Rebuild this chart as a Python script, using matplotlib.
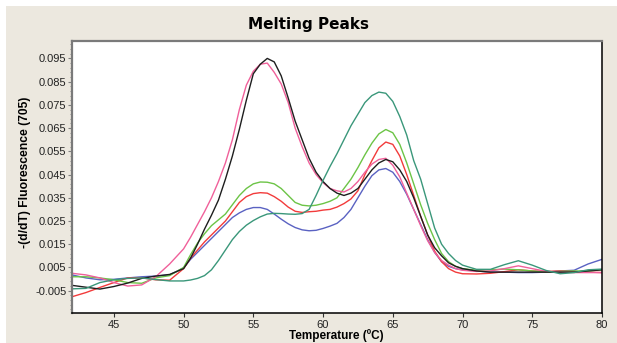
"""
Melting peaks: -(d/dT) fluorescence vs temperature for six samples.
Values read by eye off the reference chart.
"""
import matplotlib
matplotlib.use("Agg")
import matplotlib.pyplot as plt
from matplotlib.ticker import MultipleLocator, FormatStrFormatter
from matplotlib.patches import Rectangle

# shared temperature grid (degC)
temp = [42, 43, 44, 45, 46, 47, 48, 49,
        50, 50.5, 51, 51.5, 52, 52.5, 53, 53.5, 54, 54.5, 55, 55.5, 56, 56.5,
        57, 57.5, 58, 58.5, 59, 59.5, 60, 60.5, 61, 61.5, 62, 62.5, 63, 63.5,
        64, 64.5, 65, 65.5, 66, 66.5, 67, 67.5, 68, 68.5, 69, 69.5,
        70, 71, 72, 73, 74, 75, 76, 77, 78, 79, 80]

black = [-0.0027, -0.0035, -0.0043, -0.0032, -0.0017, 0.0003, 0.0013, 0.0020,
         0.0045, 0.0090, 0.0150, 0.0215, 0.0275, 0.0340, 0.0430, 0.0530, 0.0645, 0.0770, 0.0884, 0.0925, 0.0950, 0.0935,
         0.0875, 0.0780, 0.0680, 0.0600, 0.0520, 0.0460, 0.0420, 0.0390, 0.0370, 0.0360, 0.0370, 0.0390, 0.0430, 0.0470,
         0.0500, 0.0515, 0.0505, 0.0470, 0.0420, 0.0350, 0.0270, 0.0190, 0.0135, 0.0100, 0.0070, 0.0055,
         0.0045, 0.0035, 0.0030, 0.0030, 0.0030, 0.0030, 0.0030, 0.0030, 0.0030, 0.0035, 0.0040]

pink = [0.0025, 0.0018, 0.0005, -0.0015, -0.0030, -0.0025, 0.0010, 0.0065,
        0.0130, 0.0180, 0.0235, 0.0290, 0.0350, 0.0420, 0.0500, 0.0600, 0.0730, 0.0835, 0.0895, 0.0925, 0.0930, 0.0890,
        0.0840, 0.0760, 0.0650, 0.0570, 0.0500, 0.0450, 0.0415, 0.0390, 0.0380, 0.0375, 0.0390, 0.0420, 0.0460, 0.0495,
        0.0515, 0.0520, 0.0490, 0.0440, 0.0370, 0.0300, 0.0230, 0.0165, 0.0115, 0.0080, 0.0060, 0.0045,
        0.0038, 0.0033, 0.0035, 0.0045, 0.0057, 0.0045, 0.0033, 0.0030, 0.0028, 0.0028, 0.0028]

green = [0.0010, 0.0010, 0.0005, -0.0003, -0.0015, -0.0018, 0.0005, 0.0015,
         0.0050, 0.0105, 0.0155, 0.0195, 0.0230, 0.0255, 0.0280, 0.0320, 0.0360, 0.0390, 0.0410, 0.0418, 0.0417, 0.0410,
         0.0390, 0.0360, 0.0330, 0.0318, 0.0315, 0.0318, 0.0325, 0.0335, 0.0350, 0.0390, 0.0430, 0.0480, 0.0535, 0.0585,
         0.0625, 0.0644, 0.0630, 0.0580, 0.0500, 0.0410, 0.0320, 0.0240, 0.0170, 0.0110, 0.0075, 0.0055,
         0.0045, 0.0038, 0.0040, 0.0043, 0.0040, 0.0035, 0.0030, 0.0033, 0.0035, 0.0035, 0.0040]

red = [-0.0076, -0.0058, -0.0036, -0.0015, 0.0005, 0.0005, -0.0003, -0.0005,
       0.0045, 0.0090, 0.0125, 0.0160, 0.0190, 0.0220, 0.0250, 0.0290, 0.0330, 0.0355, 0.0368, 0.0372, 0.0370, 0.0355,
       0.0335, 0.0310, 0.0292, 0.0287, 0.0290, 0.0292, 0.0297, 0.0300, 0.0310, 0.0325, 0.0345, 0.0380, 0.0450, 0.0510,
       0.0565, 0.0590, 0.0580, 0.0530, 0.0450, 0.0360, 0.0270, 0.0190, 0.0120, 0.0075, 0.0045, 0.0030,
       0.0023, 0.0022, 0.0025, 0.0032, 0.0040, 0.0035, 0.0033, 0.0035, 0.0033, 0.0030, 0.0028]

blue = [0.0018, 0.0005, -0.0003, -0.0001, 0.0005, 0.0010, 0.0013, 0.0018,
        0.0048, 0.0085, 0.0115, 0.0145, 0.0175, 0.0205, 0.0235, 0.0265, 0.0285, 0.0300, 0.0308, 0.0308, 0.0300, 0.0280,
        0.0258, 0.0238, 0.0222, 0.0212, 0.0208, 0.0210, 0.0218, 0.0228, 0.0240, 0.0265, 0.0300, 0.0350, 0.0400, 0.0445,
        0.0470, 0.0476, 0.0460, 0.0420, 0.0365, 0.0300, 0.0235, 0.0170, 0.0115, 0.0075, 0.0055, 0.0045,
        0.0040, 0.0035, 0.0030, 0.0030, 0.0028, 0.0028, 0.0030, 0.0035, 0.0038, 0.0065, 0.0085]

teal = [-0.0042, -0.0040, -0.0015, -0.0003, 0.0003, 0.0005, -0.0002, -0.0008,
        -0.0008, -0.0004, 0.0003, 0.0015, 0.0040, 0.0080, 0.0125, 0.0170, 0.0205, 0.0232, 0.0252, 0.0268, 0.0280, 0.0283,
        0.0282, 0.0280, 0.0279, 0.0282, 0.0300, 0.0360, 0.0425, 0.0485, 0.0540, 0.0600, 0.0660, 0.0710, 0.0760, 0.0790,
        0.0805, 0.0800, 0.0765, 0.0700, 0.0620, 0.0510, 0.0430, 0.0325, 0.0220, 0.0150, 0.0110, 0.0080,
        0.0060, 0.0042, 0.0042, 0.0062, 0.0079, 0.0060, 0.0037, 0.0023, 0.0028, 0.0040, 0.0043]

series = [
    (blue, "#5a62c2"),
    (red, "#f23b3b"),
    (green, "#6cc446"),
    (pink, "#f0609a"),
    (black, "#1e1e1e"),
    (teal, "#3a977a"),
]

BEIGE = "#ece8df"

plt.rcParams["axes.unicode_minus"] = False
plt.rcParams["font.family"] = ["Liberation Sans", "DejaVu Sans"]

fig = plt.figure(figsize=(6.17, 3.43), dpi=100, facecolor="white")
# beige panel with a thin white margin top/left (behind the axes)
fig.patches.append(Rectangle((6 / 617, 0), 1, 1 - 6 / 343, transform=fig.transFigure,
                             facecolor=BEIGE, edgecolor="none", zorder=-5))

ax = fig.add_axes([72 / 617, 1 - 313 / 343, (602 - 72) / 617, (313 - 41) / 343])
ax.set_facecolor("white")

for vals, col in series:
    ax.plot(temp, vals, color=col, lw=1.0)

ax.set_xlim(42, 80)
ax.set_ylim(-0.0146, 0.1025)

ax.xaxis.set_major_locator(MultipleLocator(5))
ax.yaxis.set_major_locator(MultipleLocator(0.01, offset=0.005))
ax.yaxis.set_minor_locator(MultipleLocator(0.002, offset=0.001))
ax.yaxis.set_major_formatter(FormatStrFormatter("%.3f"))

ax.tick_params(axis="y", which="major", length=3, width=0.8, color="#808080",
               labelsize=8, pad=1, labelcolor="#222222")
ax.tick_params(axis="y", which="minor", length=1.5, width=0.7, color="#909090")
ax.tick_params(axis="x", which="major", length=3, width=0.8, color="#333333",
               labelsize=8, pad=2, labelcolor="#222222")

for side in ("left", "top"):
    ax.spines[side].set_color("#7a7a7a")
    ax.spines[side].set_linewidth(1.6)
for side in ("right", "bottom"):
    ax.spines[side].set_color("black")
    ax.spines[side].set_linewidth(1.1)

fig.text(0.5, 1 - 24 / 343, "Melting Peaks", ha="center", va="center",
         fontsize=11, fontweight="bold", family="DejaVu Sans")
fig.text(25 / 617, 1 - 172 / 343, "-(d/dT) Fluorescence (705)", rotation=90,
         ha="center", va="center", fontsize=8.7, fontweight="bold")
fig.text(336 / 617, 1 - 342 / 343, "Temperature (\u00baC)", ha="center", va="bottom",
         fontsize=8.5, fontweight="bold")

fig.savefig("out.png", dpi=100, facecolor=fig.get_facecolor())
